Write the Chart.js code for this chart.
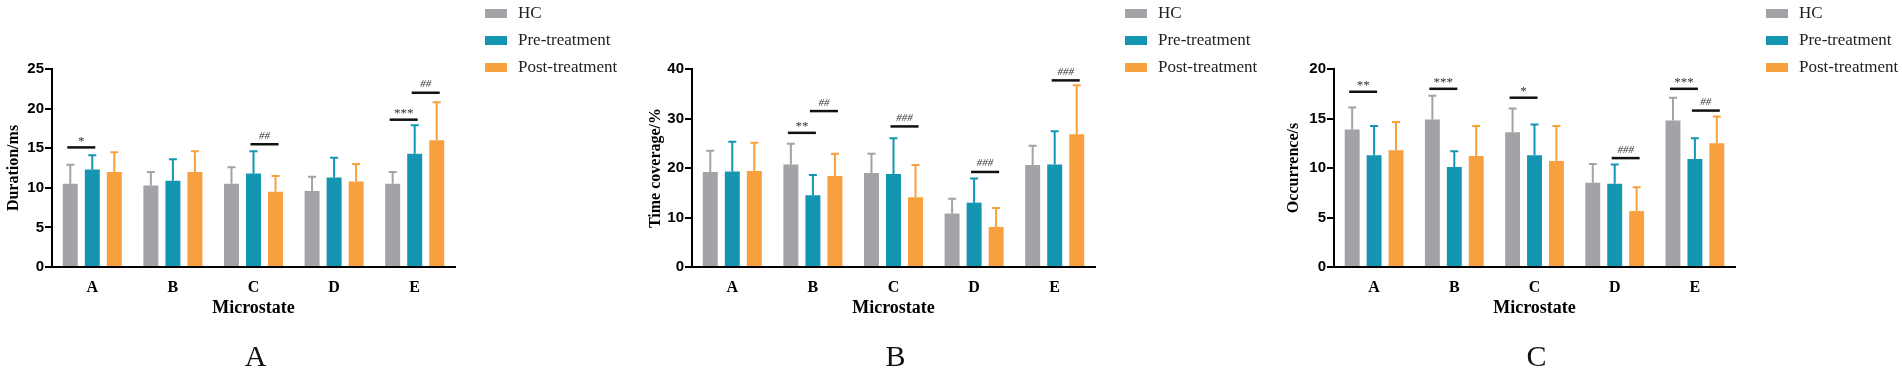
<!DOCTYPE html>
<html>
<head>
<meta charset="utf-8">
<script src="https://cdn.jsdelivr.net/npm/chart.js@4.4.0/dist/chart.umd.min.js"></script>
<style>
  body { margin: 0; background: #fff; width: 1902px; height: 377px; overflow: hidden; position: relative; }
  canvas { position: absolute; top: 0; }
</style>
</head>
<body>
<canvas id="cA" width="634" height="377" style="left:0px"></canvas>
<canvas id="cB" width="634" height="377" style="left:634px"></canvas>
<canvas id="cC" width="634" height="377" style="left:1268px"></canvas>
<script>
const categories = ['A', 'B', 'C', 'D', 'E'];
const groups = ['HC', 'Pre-treatment', 'Post-treatment'];
const colors = ['#a2a2a7', '#1496b2', '#f9a03e'];

// Duration/ms (mean, SD)
const durationHC = [10.5, 10.3, 10.5, 9.6, 10.5];
const durationPre = [12.3, 10.9, 11.8, 11.3, 14.3];
const durationPost = [12.0, 12.0, 9.5, 10.8, 16.0];
const durationHCsd = [2.4, 1.7, 2.1, 1.8, 1.5];
const durationPresd = [1.8, 2.7, 2.8, 2.5, 3.6];
const durationPostsd = [2.5, 2.6, 2.0, 2.2, 4.8];

// Time coverage/%
const coverageHC = [19.2, 20.7, 19.0, 10.8, 20.6];
const coveragePre = [19.3, 14.5, 18.8, 13.0, 20.7];
const coveragePost = [19.4, 18.4, 14.1, 8.1, 26.8];
const coverageHCsd = [4.3, 4.2, 3.9, 3.0, 3.9];
const coveragePresd = [6.0, 4.1, 7.2, 4.9, 6.7];
const coveragePostsd = [5.7, 4.5, 6.5, 3.8, 9.9];

// Occurrence/s
const occurrenceHC = [13.9, 14.9, 13.6, 8.5, 14.8];
const occurrencePre = [11.3, 10.1, 11.3, 8.4, 10.9];
const occurrencePost = [11.8, 11.2, 10.7, 5.65, 12.5];
const occurrenceHCsd = [2.2, 2.4, 2.4, 1.9, 2.3];
const occurrencePresd = [2.95, 1.6, 3.1, 1.95, 2.1];
const occurrencePostsd = [2.85, 3.05, 3.55, 2.4, 2.7];

// significance marks: category index, from group, to group, level, text
const durationMarks = [[0, 0, 1, 15.1, '*'], [2, 1, 2, 15.5, '##'], [4, 0, 1, 18.6, '***'], [4, 1, 2, 22.0, '##']];
const coverageMarks = [[1, 0, 1, 27.1, '**'], [1, 1, 2, 31.5, '##'], [2, 1, 2, 28.4, '###'], [3, 1, 2, 19.2, '###'], [4, 1, 2, 37.7, '###']];
const occurrenceMarks = [[0, 0, 1, 17.7, '**'], [1, 0, 1, 18.0, '***'], [2, 0, 1, 17.1, '*'], [3, 1, 2, 11.0, '###'], [4, 0, 1, 18.0, '***'], [4, 1, 2, 15.8, '##']];

const extras = {
  id: 'extras',
  afterDatasetsDraw(chart, args, o) {
    const ctx = chart.ctx, y = chart.scales.y;
    // error bars (upper only)
    chart.data.datasets.forEach((ds, i) => {
      chart.getDatasetMeta(i).data.forEach((bar, j) => {
        const top = y.getPixelForValue(ds.data[j] + ds.sd[j]);
        ctx.save();
        ctx.strokeStyle = ds.backgroundColor;
        ctx.lineWidth = 2;
        ctx.beginPath();
        ctx.moveTo(bar.x, bar.y);
        ctx.lineTo(bar.x, top);
        ctx.moveTo(bar.x - 4, top);
        ctx.lineTo(bar.x + 4, top);
        ctx.stroke();
        ctx.restore();
      });
    });
    // significance brackets
    o.marks.forEach(m => {
      const x1 = chart.getDatasetMeta(m[1]).data[m[0]].x - 3;
      const x2 = chart.getDatasetMeta(m[2]).data[m[0]].x + 3;
      const ly = y.getPixelForValue(m[3]);
      ctx.save();
      ctx.strokeStyle = '#111';
      ctx.lineWidth = 2.5;
      ctx.beginPath();
      ctx.moveTo(x1, ly);
      ctx.lineTo(x2, ly);
      ctx.stroke();
      ctx.fillStyle = '#333';
      ctx.textAlign = 'center';
      ctx.textBaseline = 'alphabetic';
      if (m[4][0] === '*') {
        ctx.font = '13px "Liberation Serif"';
        ctx.fillText(m[4], (x1 + x2) / 2, ly - 2.5);
      } else {
        ctx.font = 'italic 11px "Liberation Serif"';
        ctx.fillText(m[4], (x1 + x2) / 2, ly - 5.5);
      }
      ctx.restore();
    });
  },
  afterDraw(chart, args, o) {
    const ctx = chart.ctx, a = chart.chartArea;
    // legend
    ctx.save();
    ctx.font = '17px "Liberation Serif"';
    ctx.textBaseline = 'middle';
    ctx.textAlign = 'left';
    chart.data.datasets.forEach((ds, i) => {
      const cy = 13.5 + i * 27;
      ctx.fillStyle = ds.backgroundColor;
      ctx.fillRect(o.legendX, cy - 4.5, 22, 9);
      ctx.fillStyle = '#222';
      ctx.fillText(ds.label, o.legendX + 33, cy);
    });
    // panel letter
    ctx.font = '30px "Liberation Serif"';
    ctx.textAlign = 'center';
    ctx.fillStyle = '#111';
    ctx.fillText(o.tag, (a.left + a.right) / 2 + 2, 358);
    ctx.restore();
  }
};

function makeChart(id, p) {
  return new Chart(document.getElementById(id), {
    type: 'bar',
    data: {
      labels: categories,
      datasets: groups.map((g, i) => ({
        label: g,
        data: p.means[i],
        sd: p.sds[i],
        backgroundColor: colors[i],
        categoryPercentage: 0.82,
        barPercentage: 0.68
      }))
    },
    options: {
      responsive: false,
      animation: false,
      events: [],
      layout: { padding: { top: 69, right: p.right, left: 0, bottom: 0 } },
      scales: {
        x: {
          grid: { display: false, drawTicks: false },
          border: { color: '#000', width: 2 },
          ticks: { color: '#000', padding: 11, font: { family: 'Liberation Serif', size: 16, weight: 'bold' } },
          title: { display: true, text: 'Microstate', color: '#000', font: { family: 'Liberation Serif', size: 18, weight: 'bold' }, padding: { top: 0, bottom: 58 } },
          afterFit: s => { s.height = 110; }
        },
        y: {
          min: 0,
          max: p.max,
          ticks: { stepSize: p.step, color: '#000', padding: 1, font: { family: 'Liberation Sans', size: 15, weight: 'bold' } },
          grid: { drawOnChartArea: false, color: '#000', lineWidth: 2, tickLength: 7 },
          border: { color: '#000', width: 2 },
          title: { display: true, text: p.yTitle, color: '#000', font: { family: 'Liberation Serif', size: 16, weight: 'bold' }, padding: { top: p.titlePad, bottom: 0 } },
          afterFit: s => { s.width = p.left; }
        }
      },
      plugins: {
        legend: { display: false },
        tooltip: { enabled: false },
        extras: { marks: p.marks, legendX: p.legendX, tag: p.tag }
      }
    },
    plugins: [extras]
  });
}

makeChart('cA', {
  means: [durationHC, durationPre, durationPost],
  sds: [durationHCsd, durationPresd, durationPostsd],
  marks: durationMarks, max: 25, step: 5, yTitle: 'Duration/ms',
  left: 52, right: 179, titlePad: 4, legendX: 485, tag: 'A'
});
makeChart('cB', {
  means: [coverageHC, coveragePre, coveragePost],
  sds: [coverageHCsd, coveragePresd, coveragePostsd],
  marks: coverageMarks, max: 40, step: 10, yTitle: 'Time coverage/%',
  left: 58, right: 173, titlePad: 12, legendX: 491, tag: 'B'
});
makeChart('cC', {
  means: [occurrenceHC, occurrencePre, occurrencePost],
  sds: [occurrenceHCsd, occurrencePresd, occurrencePostsd],
  marks: occurrenceMarks, max: 20, step: 5, yTitle: 'Occurrence/s',
  left: 66, right: 167, titlePad: 16, legendX: 498, tag: 'C'
});
</script>
</body>
</html>
